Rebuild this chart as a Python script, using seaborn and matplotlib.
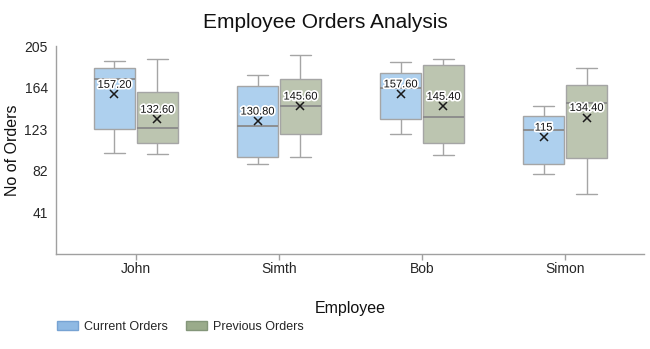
import matplotlib
matplotlib.use("Agg")
import matplotlib.pyplot as plt
import matplotlib.patheffects as pe
from matplotlib.patches import Patch
import seaborn as sns
import pandas as pd

# ---- data ----
employees = ["John", "Simth", "Bob", "Simon"]
series = ["Current Orders", "Previous Orders"]

john_current = [100, 108, 108, 168, 170, 174, 180, 184, 190, 190]
john_previous = [99, 99, 109, 109, 124, 124, 130, 170, 170, 192]
simth_current = [89, 96, 96, 96, 126, 126, 166, 166, 171, 176]
simth_previous = [96, 110, 118, 118, 145, 146, 172, 172, 183, 196]
bob_current = [118, 133, 133, 133, 164, 164, 178, 178, 186, 189]
bob_previous = [98, 106, 106, 118, 135, 135, 186, 186, 192, 192]
simon_current = [79, 89, 89, 89, 122, 122, 136, 136, 142, 146]
simon_previous = [59, 92, 92, 104, 148, 149, 167, 167, 183, 183]

current_orders = [john_current, simth_current, bob_current, simon_current]
previous_orders = [john_previous, simth_previous, bob_previous, simon_previous]

y_ticks = [41, 82, 123, 164, 205]

box_colors = ["#aed0ee", "#bcc5b0"]
legend_colors = ["#8fb9e3", "#9aab8b"]
legend_edges = ["#77a3d3", "#84967a"]

# ---- long-form table ----
rows = []
for emp, cur, prev in zip(employees, current_orders, previous_orders):
    for v in cur:
        rows.append((emp, series[0], v))
    for v in prev:
        rows.append((emp, series[1], v))
df = pd.DataFrame(rows, columns=["Employee", "Series", "Orders"])

sns.set_theme(style="white")
plt.rcParams["font.family"] = ["Liberation Sans", "DejaVu Sans"]

fig = plt.figure(figsize=(6.5, 3.49), dpi=100)
ax = fig.add_axes([56 / 650, 95 / 349, 588 / 650, 208 / 349])

sns.boxplot(
    data=df, x="Employee", y="Orders", hue="Series",
    order=employees, hue_order=series, palette=box_colors,
    saturation=1, width=0.6, gap=0.03, linecolor="#a5a5a5", linewidth=1,
    showmeans=True,
    meanprops=dict(marker="x", markeredgecolor="#1a1a1a", markerfacecolor="#1a1a1a",
                   markersize=5.5, markeredgewidth=1.1),
    medianprops=dict(color="#8a8a8a", linewidth=1.3),
    legend=False, ax=ax,
)

# mean labels from the drawn mean markers
for line in ax.lines:
    if line.get_marker() == "x":
        xs, ys = line.get_xdata(), line.get_ydata()
        for x, y in zip(xs, ys):
            lab = str(int(round(y))) if abs(y - round(y)) < 1e-9 else f"{y:.2f}"
            ax.annotate(lab, (x, y), xytext=(0, 7), textcoords="offset points",
                        ha="center", va="center", fontsize=8, color="#111111",
                        path_effects=[pe.withStroke(linewidth=2.5, foreground="white")],
                        zorder=10)

ax.set_xlim(-0.559, 3.552)
ax.set_ylim(0, 205)
ax.set_yticks(y_ticks)
for s in ["top", "right"]:
    ax.spines[s].set_visible(False)
for s in ["left", "bottom"]:
    ax.spines[s].set_color("#a0a0a0")
    ax.spines[s].set_linewidth(1)
ax.tick_params(axis="x", length=4, color="#a0a0a0", width=1, labelsize=10, pad=2, bottom=True)
ax.tick_params(axis="y", length=0, labelsize=10, pad=6, left=False)
ax.set_ylabel("No of Orders", fontsize=11.5, labelpad=3, color="#111111")
ax.set_xlabel("Employee", fontsize=11.5, labelpad=18, color="#111111")

fig.text(0.5, 1 - 22 / 349, "Employee Orders Analysis", ha="center", va="center",
         fontsize=15, color="#111111")

handles = [Patch(facecolor=c, edgecolor=e, linewidth=1) for c, e in zip(legend_colors, legend_edges)]
fig.legend(handles, series, loc="center left", bbox_to_anchor=(57 / 650, 1 - 327 / 349),
           ncol=2, frameon=False, fontsize=9, handlelength=1.7, handleheight=0.75,
           handletextpad=0.5, columnspacing=1.4, borderpad=0, borderaxespad=0)

fig.savefig("out.png", dpi=100)
